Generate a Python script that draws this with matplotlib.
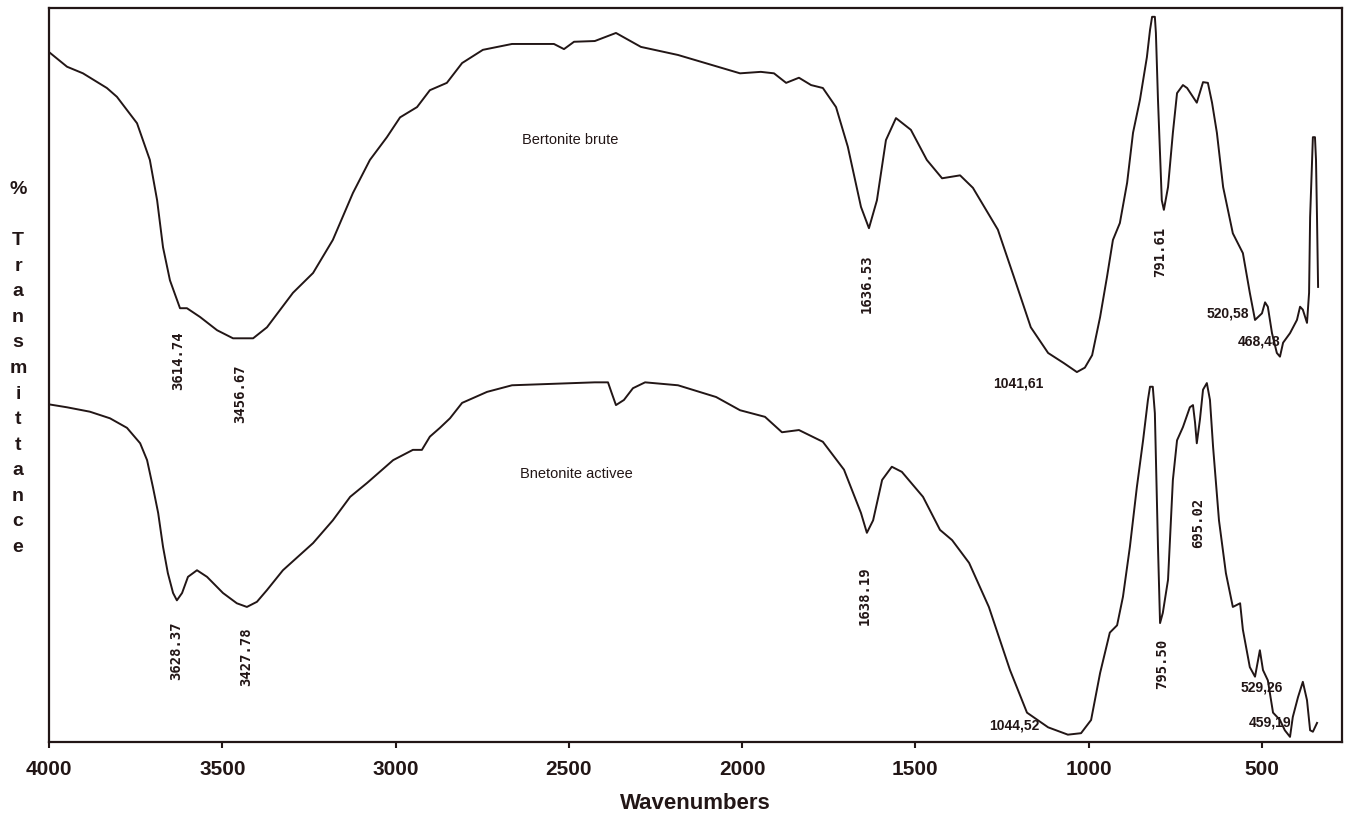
import matplotlib
matplotlib.use("Agg")
import matplotlib.pyplot as plt

# ---------------- data ----------------
wn_brute = [4000, 3948, 3902, 3833, 3804, 3746, 3729, 3709, 3688, 3671, 3651, 3622, 3602,
            3564, 3515, 3469, 3411, 3371, 3296, 3238, 3181, 3123, 3074, 3025, 2987, 2938,
            2901, 2852, 2808, 2748, 2664, 2543, 2514, 2485, 2425, 2364, 2292, 2185, 2006,
            1946, 1908, 1873, 1836, 1801, 1767, 1729, 1695, 1657, 1634, 1611, 1585, 1556,
            1513, 1467, 1423, 1371, 1334, 1262, 1216, 1167, 1117, 1071, 1034, 1011, 990,
            967, 947, 930, 910, 889, 872, 852, 832, 823, 817, 809, 806, 800, 789, 783, 771,
            757, 745, 728, 716, 688, 670, 656, 644, 630, 612, 584, 555, 535, 520, 500, 491,
            483, 471, 457, 448, 439, 419, 399, 390, 382, 370, 364, 361, 353, 347, 344, 341, 338]
t_brute = [94.0, 92.0, 91.1, 89.1, 87.9, 84.3, 82.0, 79.3, 73.8, 67.4, 62.9, 59.1, 59.1,
           57.9, 56.1, 55.0, 55.0, 56.5, 61.2, 63.9, 68.4, 74.8, 79.3, 82.4, 85.1, 86.5,
           88.8, 89.8, 92.5, 94.3, 95.1, 95.1, 94.4, 95.4, 95.5, 96.6, 94.7, 93.6, 91.1,
           91.3, 91.1, 89.8, 90.5, 89.5, 89.1, 86.5, 81.1, 72.9, 70.0, 73.8, 82.0, 85.0,
           83.4, 79.3, 76.8, 77.2, 75.5, 69.8, 63.4, 56.5, 53.0, 51.6, 50.4, 51.0, 52.7,
           57.9, 63.4, 68.4, 70.7, 76.2, 83.0, 87.5, 93.3, 97.0, 98.8, 98.8, 96.6, 87.5,
           73.8, 72.5, 75.6, 83.0, 88.4, 89.5, 89.1, 87.1, 89.9, 89.8, 87.1, 83.0, 75.6,
           69.3, 66.6, 61.2, 57.5, 58.4, 59.9, 59.3, 55.7, 53.0, 52.5, 54.4, 55.7, 57.5,
           59.3, 58.9, 57.1, 61.2, 71.5, 82.4, 82.4, 79.3, 71.1, 62.0]

wn_active = [4000, 3948, 3882, 3824, 3775, 3737, 3717, 3700, 3685, 3671, 3657, 3642, 3631,
             3616, 3599, 3573, 3544, 3498, 3458, 3429, 3400, 3371, 3325, 3238, 3181, 3131,
             3082, 3007, 2950, 2924, 2901, 2872, 2843, 2808, 2736, 2664, 2485, 2425, 2387,
             2376, 2364, 2341, 2315, 2280, 2185, 2075, 2006, 1934, 1885, 1836, 1767, 1706,
             1657, 1640, 1622, 1596, 1568, 1539, 1478, 1429, 1394, 1345, 1288, 1227, 1178,
             1117, 1060, 1022, 993, 967, 939, 918, 901, 881, 861, 843, 829, 823, 815, 809,
             800, 794, 786, 771, 757, 745, 728, 708, 699, 693, 688, 679, 670, 659, 650, 641,
             624, 604, 584, 563, 555, 535, 520, 506, 497, 483, 468, 448, 434, 419, 411, 396,
             382, 370, 361, 353, 341]
t_active = [46.0, 45.6, 45.0, 44.1, 42.8, 40.7, 38.4, 34.7, 31.2, 26.6, 23.0, 20.3, 19.3,
            20.3, 22.5, 23.4, 22.5, 20.3, 18.9, 18.4, 19.1, 20.7, 23.4, 27.1, 30.2, 33.4,
            35.3, 38.4, 39.8, 39.8, 41.6, 42.8, 44.1, 46.2, 47.7, 48.6, 48.9, 49.0, 49.0,
            47.5, 45.9, 46.6, 48.2, 49.0, 48.6, 47.0, 45.2, 44.3, 42.2, 42.5, 40.9, 37.1,
            31.2, 28.5, 30.2, 35.7, 37.5, 36.8, 33.4, 28.9, 27.5, 24.4, 18.4, 9.8, 4.0,
            2.0, 1.0, 1.2, 3.0, 9.4, 14.9, 15.9, 19.8, 26.6, 34.7, 41.1, 46.6, 48.4, 48.4,
            44.8, 26.6, 16.2, 17.6, 22.1, 35.7, 41.1, 42.9, 45.6, 45.9, 43.5, 40.7, 43.9,
            48.0, 48.9, 46.6, 40.2, 30.2, 23.0, 18.4, 18.9, 15.3, 10.2, 8.9, 12.5, 9.8, 8.4,
            4.0, 3.0, 1.6, 0.7, 3.4, 6.1, 8.2, 5.7, 1.6, 1.4, 2.6]

# peak annotations: (text, wavenumber, transmittance, rotation)
peak_labels = [
    ("3614.74", 3628, 51.9, 90),
    ("3456.67", 3449, 47.5, 90),
    ("1636.53", 1640, 62.4, 90),
    ("791.61", 794, 66.8, 90),
    ("520,58", 598, 58.4, 0),
    ("468,48", 509, 54.5, 0),
    ("1041,61", 1204, 48.9, 0),
    ("3628.37", 3634, 12.5, 90),
    ("3427.78", 3432, 11.6, 90),
    ("1638.19", 1646, 20.0, 90),
    ("795.50", 789, 10.6, 90),
    ("695.02", 685, 29.8, 90),
    ("529,26", 500, 7.4, 0),
    ("459,19", 477, 2.6, 0),
    ("1044,52", 1216, 2.3, 0),
]
series_labels = [("Bertonite brute", 2497, 82.0), ("Bnetonite activee", 2477, 36.5)]
xticks = [4000, 3500, 3000, 2500, 2000, 1500, 1000, 500]

# ---------------- figure ----------------
INK = "#221616"
SANS = ["Liberation Sans", "DejaVu Sans"]
MONO = ["DejaVu Sans Mono", "DejaVu Sans"]

fig = plt.figure(figsize=(13.48, 8.19), dpi=100)
ax = fig.add_axes([49 / 1348, 1 - 742 / 819, (1342 - 49) / 1348, (742 - 8) / 819])

ax.plot(wn_brute, t_brute, color=INK, lw=1.4)
ax.plot(wn_active, t_active, color=INK, lw=1.4)

ax.set_xlim(4000, 269)
ax.set_ylim(0, 100)
ax.set_xticks(xticks)
ax.set_xticklabels([str(t) for t in xticks], fontfamily=SANS, fontsize=15,
                   fontweight="bold", color=INK)
ax.set_yticks([])
ax.tick_params(axis="x", direction="out", length=4, width=1.5, color=INK, pad=9)
for s in ax.spines.values():
    s.set_color(INK)
    s.set_linewidth(1.6)

ax.set_xlabel("Wavenumbers", fontfamily=SANS, fontsize=16, fontweight="bold",
              color=INK, labelpad=10)

for txt, x, y, rot in peak_labels:
    if rot == 90:
        ax.text(x, y, txt, rotation=90, ha="center", va="center", fontsize=10,
                fontfamily=MONO, fontweight="bold", color=INK)
    else:
        ax.text(x, y, txt, ha="center", va="center", fontsize=10,
                fontfamily=SANS, fontweight="bold", color=INK)

for txt, x, y in series_labels:
    ax.text(x, y, txt, ha="center", va="center", fontsize=10.5, fontfamily=SANS, color=INK)

fig.text(18 / 1348, 1 - 368.5 / 819, "%\n\nT\nr\na\nn\ns\nm\ni\nt\nt\na\nn\nc\ne",
         ha="center", va="center", multialignment="center", fontsize=14,
         fontweight="bold", fontfamily=SANS, color=INK, linespacing=1.66)

fig.savefig("out.png", dpi=100)
